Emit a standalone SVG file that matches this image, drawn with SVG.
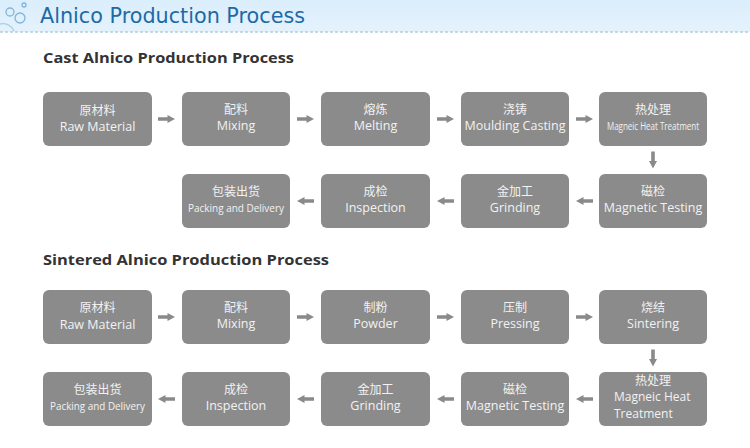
<svg xmlns="http://www.w3.org/2000/svg" width="750" height="448" viewBox="0 0 750 448">
<defs>
<linearGradient id="hdr" x1="0" y1="0" x2="0" y2="1">
<stop offset="0" stop-color="#dbeefb"/>
<stop offset="1" stop-color="#e4f2fd"/>
</linearGradient>
<path id="ar" d="M-8.5,-1.8 L1,-1.8 L1,-4 L8.5,0 L1,4 L1,1.8 L-8.5,1.8 z" fill="#8a8a8a"/>
</defs>
<style>
.box{fill:#8b8b8b}
.zh{font-family:"Noto Sans CJK SC",sans-serif;font-size:12px;fill:#f2f2f2;text-anchor:middle}
.en{font-family:"Open Sans","Liberation Sans",sans-serif;font-size:12.5px;fill:#f2f2f2;text-anchor:middle}
.sm{font-family:"Open Sans","Liberation Sans",sans-serif;font-size:11px;fill:#f2f2f2;text-anchor:middle}
.sec{font-family:"Open Sans","Liberation Sans",sans-serif;font-size:15px;font-weight:bold;fill:#333}
</style>
<rect x="0" y="0" width="750" height="32" fill="url(#hdr)"/>
<line x1="0" y1="32" x2="750" y2="32" stroke="#8fbccc" stroke-width="1.2" stroke-dasharray="3,2"/>
<g id="icon" fill="none" stroke-width="1.3">
<path d="M0,24 A12,12 0 0 1 14,31" stroke="#a9d0ea"/>
<circle cx="10" cy="12" r="4" stroke="#7fb6dc"/>
<circle cx="20" cy="18" r="5" stroke="#7fb6dc"/>
<circle cx="24" cy="5" r="2" stroke="#7fb6dc"/>
</g>
<text x="40" y="23" font-family="DejaVu Sans,sans-serif" font-size="21" fill="#1c6aa6" textLength="265" lengthAdjust="spacingAndGlyphs">Alnico Production Process</text>
<text class="sec" x="43" y="63" textLength="251" lengthAdjust="spacingAndGlyphs">Cast Alnico Production Process</text>
<text class="sec" x="43" y="265" textLength="286" lengthAdjust="spacingAndGlyphs">Sintered Alnico Production Process</text>

<g id="c1"><rect class="box" x="43" y="92" width="109" height="54" rx="6"/><text class="zh" x="97.5" y="115">原材料</text><text class="en" x="97.5" y="131">Raw Material</text></g>
<g id="c2"><rect class="box" x="182" y="92" width="108" height="54" rx="6"/><text class="zh" x="236" y="114">配料</text><text class="en" x="236" y="130">Mixing</text></g>
<g id="c3"><rect class="box" x="321" y="92" width="109" height="54" rx="6"/><text class="zh" x="375.5" y="114">熔炼</text><text class="en" x="375.5" y="130">Melting</text></g>
<g id="c4"><rect class="box" x="461" y="92" width="108" height="54" rx="6"/><text class="zh" x="515" y="114">浇铸</text><text class="en" x="515" y="130">Moulding Casting</text></g>
<g id="c5"><rect class="box" x="599" y="92" width="108" height="54" rx="6"/><text class="zh" x="653" y="114">热处理</text><text class="sm" x="653" y="130" textLength="92" lengthAdjust="spacingAndGlyphs">Magneic Heat Treatment</text></g>
<g id="c6"><rect class="box" x="599" y="174" width="108" height="54" rx="6"/><text class="zh" x="653" y="196">磁检</text><text class="en" x="653" y="212">Magnetic Testing</text></g>
<g id="c7"><rect class="box" x="461" y="174" width="108" height="54" rx="6"/><text class="zh" x="515" y="196">金加工</text><text class="en" x="515" y="212">Grinding</text></g>
<g id="c8"><rect class="box" x="321" y="174" width="109" height="54" rx="6"/><text class="zh" x="375.5" y="196">成检</text><text class="en" x="375.5" y="212">Inspection</text></g>
<g id="c9"><rect class="box" x="182" y="174" width="108" height="54" rx="6"/><text class="zh" x="236" y="196">包装出货</text><text class="sm" x="236" y="212" textLength="96" lengthAdjust="spacingAndGlyphs">Packing and Delivery</text></g>

<g id="s1"><rect class="box" x="43" y="290" width="109" height="54" rx="6"/><text class="zh" x="97.5" y="312">原材料</text><text class="en" x="97.5" y="329">Raw Material</text></g>
<g id="s2"><rect class="box" x="182" y="290" width="108" height="54" rx="6"/><text class="zh" x="236" y="312">配料</text><text class="en" x="236" y="328">Mixing</text></g>
<g id="s3"><rect class="box" x="321" y="290" width="109" height="54" rx="6"/><text class="zh" x="375.5" y="312">制粉</text><text class="en" x="375.5" y="328">Powder</text></g>
<g id="s4"><rect class="box" x="461" y="290" width="108" height="54" rx="6"/><text class="zh" x="515" y="312">压制</text><text class="en" x="515" y="328">Pressing</text></g>
<g id="s5"><rect class="box" x="599" y="290" width="108" height="54" rx="6"/><text class="zh" x="653" y="312">烧结</text><text class="en" x="653" y="328">Sintering</text></g>
<g id="s6"><rect class="box" x="599" y="372" width="108" height="54" rx="6"/><text class="zh" x="653" y="385">热处理</text><text class="en" x="614" y="401" style="text-anchor:start;font-size:12px">Magneic Heat</text><text class="en" x="614" y="418" style="text-anchor:start;font-size:12px">Treatment</text></g>
<g id="s7"><rect class="box" x="461" y="372" width="108" height="54" rx="6"/><text class="zh" x="515" y="394">磁检</text><text class="en" x="515" y="410">Magnetic Testing</text></g>
<g id="s8"><rect class="box" x="321" y="372" width="109" height="54" rx="6"/><text class="zh" x="375.5" y="394">金加工</text><text class="en" x="375.5" y="410">Grinding</text></g>
<g id="s9"><rect class="box" x="182" y="372" width="108" height="54" rx="6"/><text class="zh" x="236" y="394">成检</text><text class="en" x="236" y="410">Inspection</text></g>
<g id="s10"><rect class="box" x="43" y="372" width="109" height="54" rx="6"/><text class="zh" x="97.5" y="394">包装出货</text><text class="sm" x="97.5" y="410" textLength="95" lengthAdjust="spacingAndGlyphs">Packing and Delivery</text></g>

<g id="connectors">
<use href="#ar" transform="translate(166.5,119)"/>
<use href="#ar" transform="translate(305.5,119)"/>
<use href="#ar" transform="translate(445.5,119)"/>
<use href="#ar" transform="translate(584.5,119)"/>
<use href="#ar" transform="translate(653,160) rotate(90)"/>
<use href="#ar" transform="translate(584.5,201) rotate(180)"/>
<use href="#ar" transform="translate(445.5,201) rotate(180)"/>
<use href="#ar" transform="translate(305.5,201) rotate(180)"/>
<use href="#ar" transform="translate(166.5,317)"/>
<use href="#ar" transform="translate(305.5,317)"/>
<use href="#ar" transform="translate(445.5,317)"/>
<use href="#ar" transform="translate(584.5,317)"/>
<use href="#ar" transform="translate(653,358) rotate(90)"/>
<use href="#ar" transform="translate(584.5,399) rotate(180)"/>
<use href="#ar" transform="translate(445.5,399) rotate(180)"/>
<use href="#ar" transform="translate(305.5,399) rotate(180)"/>
<use href="#ar" transform="translate(166.5,399) rotate(180)"/>
</g>
</svg>
